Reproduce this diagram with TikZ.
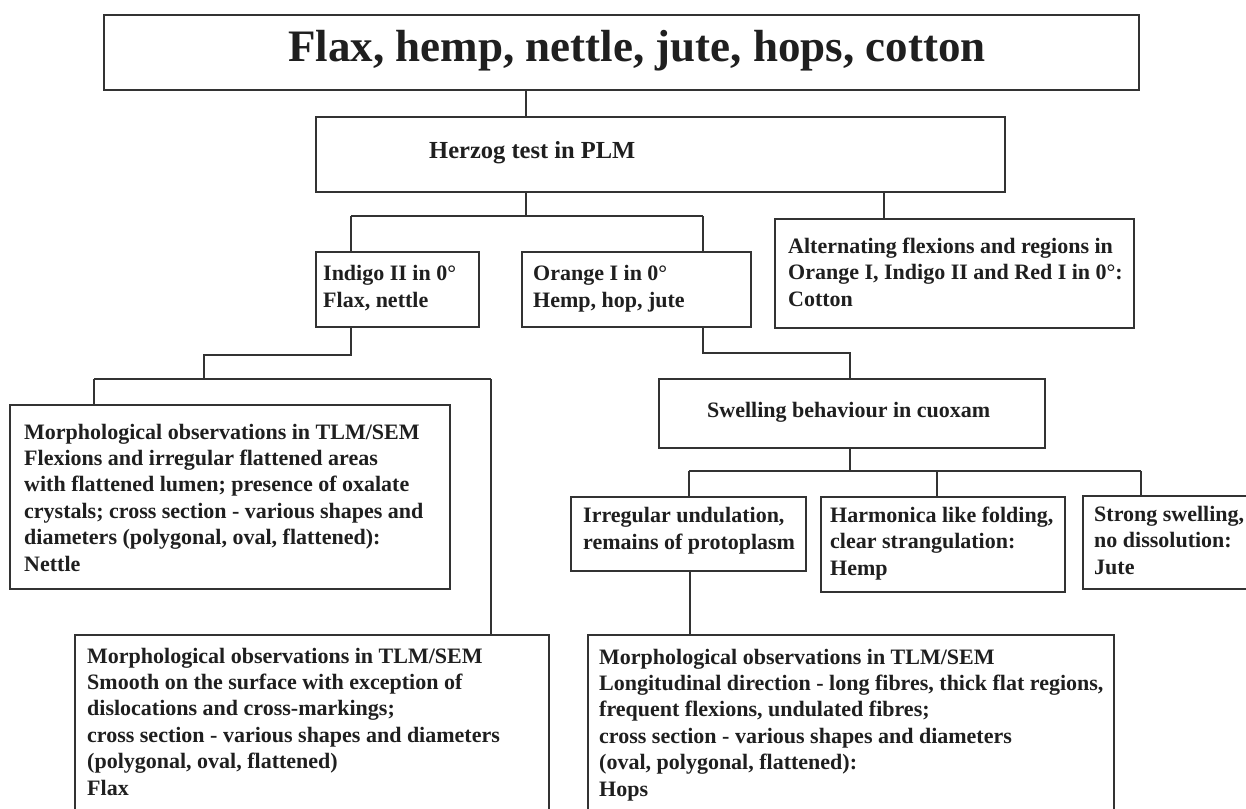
\documentclass[tikz,border=0pt]{standalone}
\usepackage{fontspec}
\setmainfont{Liberation Serif}
\begin{document}
\begin{tikzpicture}[x=1pt,y=-1pt,
  box/.style={draw=black!80, line width=2pt, rectangle, inner sep=0pt, anchor=north west},
  txt/.style={inner sep=0pt, anchor=base west, align=left, text=black!88,
    font=\bfseries\fontsize{22}{26.4}\selectfont},
  con/.style={draw=black!80, line width=1.7pt}]
\clip (0,0) rectangle (1246,808);
\fill[white] (0,0) rectangle (1246,808);
% boxes
\node[box, minimum width=1035, minimum height=75] (title) at (103,14) {};
\node[box, minimum width=689, minimum height=75] (herzog) at (315,116) {};
\node[box, minimum width=163, minimum height=75] (indigo) at (315,251) {};
\node[box, minimum width=229, minimum height=75] (orange) at (521,251) {};
\node[box, minimum width=359, minimum height=109] (cotton) at (774,218) {};
\node[box, minimum width=386, minimum height=69] (swell) at (658,378) {};
\node[box, minimum width=440, minimum height=184] (nettle) at (9,404) {};
\node[box, minimum width=474, minimum height=200] (flax) at (74,634) {};
\node[box, minimum width=235, minimum height=74] (irreg) at (570,496) {};
\node[box, minimum width=244, minimum height=95] (hemp) at (820,496) {};
\node[box, minimum width=190, minimum height=93] (jute) at (1082,495) {};
\node[box, minimum width=526, minimum height=200] (hops) at (587,634) {};
% texts (anchor = baseline of the last line)
\node[txt, font=\bfseries\fontsize{45}{50}\selectfont] (title-t) at (288,61) {Flax, hemp, nettle, jute, hops, cotton};
\node[txt, font=\bfseries\fontsize{24.5}{29}\selectfont] (herzog-t) at (429,158) {Herzog test in PLM};
\node[txt] (indigo-t) at (323,307) {Indigo II in 0°\\Flax, nettle};
\node[txt] (orange-t) at (533,307) {Orange I in 0°\\Hemp, hop, jute};
\node[txt] (cotton-t) at (788,306) {Alternating flexions and regions in\\Orange I, Indigo II and Red I in 0°:\\Cotton};
\node[txt] (swell-t) at (707,417) {Swelling behaviour in cuoxam};
\node[txt] (nettle-t) at (24,571) {Morphological observations in TLM/SEM\\Flexions and irregular flattened areas\\with flattened lumen; presence of oxalate\\crystals; cross section - various shapes and\\diameters (polygonal, oval, flattened):\\Nettle};
\node[txt] (flax-t) at (87,795) {Morphological observations in TLM/SEM\\Smooth on the surface with exception of\\dislocations and cross-markings;\\cross section - various shapes and diameters\\(polygonal, oval, flattened)\\Flax};
\node[txt] (irreg-t) at (583,549) {Irregular undulation,\\remains of protoplasm};
\node[txt] (hemp-t) at (830,575) {Harmonica like folding,\\clear strangulation:\\Hemp};
\node[txt] (jute-t) at (1094,574) {Strong swelling,\\no dissolution:\\Jute};
\node[txt] (hops-t) at (599,796) {Morphological observations in TLM/SEM\\Longitudinal direction - long fibres, thick flat regions,\\frequent flexions, undulated fibres;\\cross section - various shapes and diameters\\(oval, polygonal, flattened):\\Hops};
% junction coordinates
\coordinate (a1) at (526,216);
\coordinate (a2) at (351,216);
\coordinate (a3) at (703,216);
\coordinate (a4) at (884,200);
\coordinate (b1) at (351,355);
\coordinate (b2) at (204,355);
\coordinate (b3) at (204,379);
\coordinate (b4) at (94,379);
\coordinate (b5) at (491,379);
\coordinate (c1) at (703,353);
\coordinate (c2) at (850,353);
\coordinate (d1) at (850,471);
\coordinate (d2) at (689,471);
\coordinate (d3) at (937,471);
\coordinate (d4) at (1141,471);
\coordinate (e1) at (690,600);
% connectors
\draw[con] (title.south -| a1) -- (herzog.north -| a1);
\draw[con] (herzog.south -| a1) -- (a1);
\draw[con] (a2) -- (a3);
\draw[con] (a2) -- (indigo.north -| a2);
\draw[con] (a3) -- (orange.north -| a3);
\draw[con] (herzog.south -| a4) -- (cotton.north -| a4);
\draw[con] (indigo.south -| b1) -- (b1) -- (b2) -- (b3);
\draw[con] (b4) -- (b5);
\draw[con] (b4) -- (nettle.north -| b4);
\draw[con] (b5) -- (flax.north -| b5);
\draw[con] (orange.south -| c1) -- (c1) -- (c2) -- (swell.north -| c2);
\draw[con] (swell.south -| d1) -- (d1);
\draw[con] (d2) -- (d4);
\draw[con] (d2) -- (irreg.north -| d2);
\draw[con] (d3) -- (hemp.north -| d3);
\draw[con] (d4) -- (jute.north -| d4);
\draw[con] (irreg.south -| e1) -- (hops.north -| e1);
\end{tikzpicture}
\end{document}
